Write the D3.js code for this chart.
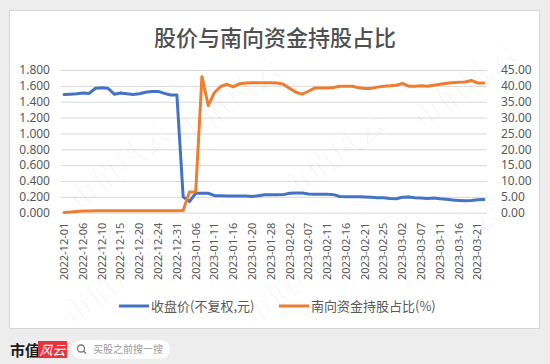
<!DOCTYPE html>
<html>
<head>
<meta charset="utf-8">
<script src="https://cdn.jsdelivr.net/npm/d3@7"></script>
<style>
  body { margin: 0; background: #ededed; }
  svg { display: block; }
</style>
</head>
<body>
<svg id="chart" width="550" height="364"></svg>
<script>
const dates = [
  "2022-12-01", "2022-12-02", "2022-12-05", "2022-12-06", "2022-12-07", "2022-12-08", "2022-12-10", "2022-12-12",
  "2022-12-13", "2022-12-15", "2022-12-16", "2022-12-19", "2022-12-20", "2022-12-21", "2022-12-22", "2022-12-24",
  "2022-12-28", "2022-12-29", "2022-12-31", "2023-01-03", "2023-01-04", "2023-01-06", "2023-01-09", "2023-01-10",
  "2023-01-11", "2023-01-12", "2023-01-13", "2023-01-16", "2023-01-17", "2023-01-18", "2023-01-20", "2023-01-21",
  "2023-01-27", "2023-01-28", "2023-01-31", "2023-02-01", "2023-02-02", "2023-02-03", "2023-02-06", "2023-02-07",
  "2023-02-08", "2023-02-10", "2023-02-11", "2023-02-14", "2023-02-15", "2023-02-16", "2023-02-17", "2023-02-20",
  "2023-02-21", "2023-02-23", "2023-02-24", "2023-02-25", "2023-02-28", "2023-03-01", "2023-03-02", "2023-03-03",
  "2023-03-06", "2023-03-07", "2023-03-09", "2023-03-10", "2023-03-11", "2023-03-14", "2023-03-15", "2023-03-16",
  "2023-03-17", "2023-03-20", "2023-03-21", "2023-03-22"
];

// 收盘价(不复权,元)
const closePrice = [
  1.49, 1.495, 1.50, 1.51, 1.505, 1.57, 1.575, 1.57,
  1.495, 1.51, 1.50, 1.49, 1.50, 1.52, 1.53, 1.53,
  1.505, 1.485, 1.485, 0.20, 0.14, 0.245, 0.245, 0.245,
  0.215, 0.215, 0.21, 0.21, 0.21, 0.21, 0.205, 0.215,
  0.225, 0.225, 0.225, 0.228, 0.245, 0.25, 0.248, 0.235,
  0.233, 0.233, 0.233, 0.228, 0.205, 0.20, 0.20, 0.20,
  0.198, 0.195, 0.19, 0.19, 0.18, 0.175, 0.195, 0.198,
  0.19, 0.185, 0.18, 0.185, 0.175, 0.17, 0.16, 0.155,
  0.15, 0.155, 0.163, 0.165
];

// 南向资金持股占比(%)
const southboundPct = [
  0.1, 0.2, 0.35, 0.5, 0.55, 0.6, 0.6, 0.6,
  0.6, 0.6, 0.6, 0.6, 0.6, 0.6, 0.6, 0.6,
  0.6, 0.6, 0.6, 0.7, 6.5, 6.6, 42.9, 33.8,
  37.9, 39.8, 40.5, 39.7, 40.7, 40.9, 41.0, 41.0,
  41.0, 41.0, 40.9, 40.5, 39.2, 38.0, 37.4, 38.3,
  39.3, 39.3, 39.3, 39.5, 39.9, 39.9, 39.9, 39.4,
  39.2, 39.2, 39.6, 39.9, 40.0, 40.2, 40.8, 39.9,
  39.9, 40.0, 39.9, 40.2, 40.5, 40.8, 41.0, 41.1,
  41.2, 41.7, 40.9, 40.9
];

const leftTicks = [0, 0.2, 0.4, 0.6, 0.8, 1.0, 1.2, 1.4, 1.6, 1.8];
const rightTicks = [0, 5, 10, 15, 20, 25, 30, 35, 40, 45];

const title = "股价与南向资金持股占比";
const seriesNames = ["收盘价(不复权,元)", "南向资金持股占比(%)"];
const colors = ["#4472c4", "#ed7d31"];

const textFont = "'Noto Sans', 'Noto Sans CJK SC', sans-serif";
const cjkFont = "'Noto Sans CJK SC', sans-serif";

const svg = d3.select("#chart");

// page frame
svg.append("rect").attr("x", 0).attr("y", 0).attr("width", 550).attr("height", 364)
  .attr("rx", 8).attr("fill", "#ededed");
svg.append("rect").attr("x", 9.5).attr("y", 10.5).attr("width", 530).attr("height", 318)
  .attr("fill", "#ffffff").attr("stroke", "#d6d6d6");

const plot = { left: 61, right: 487, top: 70, bottom: 212.7 };

const x = d3.scaleBand().domain(d3.range(dates.length))
  .range([plot.left, plot.right]);
const cx = (i) => x(i) + x.bandwidth() / 2;

const yLeft = d3.scaleLinear().domain([0, 1.8]).range([plot.bottom, plot.top]);
const yRight = d3.scaleLinear().domain([0, 45]).range([plot.bottom, plot.top]);

// gridlines
svg.append("g")
  .attr("transform", `translate(${plot.left},0)`)
  .call(d3.axisLeft(yLeft).tickValues(leftTicks).tickSize(-(plot.right - plot.left)).tickFormat(""))
  .call((g) => g.select(".domain").remove())
  .call((g) => g.selectAll("line").attr("stroke", "#d9d9d9").attr("stroke-width", 1));

// left axis labels
svg.append("g")
  .attr("transform", `translate(${plot.left - 11},0)`)
  .call(d3.axisLeft(yLeft).tickValues(leftTicks).tickSize(0).tickFormat(d3.format(".3f")))
  .call((g) => g.select(".domain").remove())
  .call((g) => g.selectAll("text").attr("fill", "#595959").attr("font-size", 12)
    .attr("font-family", textFont).attr("x", 0));

// right axis labels
svg.append("g")
  .attr("transform", `translate(${plot.right + 14},0)`)
  .call(d3.axisRight(yRight).tickValues(rightTicks).tickSize(0).tickFormat(d3.format(".2f")))
  .call((g) => g.select(".domain").remove())
  .call((g) => g.selectAll("text").attr("fill", "#595959").attr("font-size", 12)
    .attr("font-family", textFont).attr("x", 0));

// x axis labels, every third category like Excel's auto interval
const xAxis = d3.axisBottom(x)
  .tickValues(d3.range(dates.length).filter((i) => i % 3 === 0))
  .tickSize(0)
  .tickFormat((i) => dates[i]);

svg.append("g")
  .attr("transform", `translate(0,${plot.bottom})`)
  .call(xAxis)
  .call((g) => g.select(".domain").remove())
  .call((g) => g.selectAll("text")
    .attr("fill", "#595959").attr("font-size", 11).attr("font-family", textFont)
    .attr("text-anchor", "end")
    .attr("transform", "rotate(-90)")
    .attr("x", -10).attr("y", 0).attr("dy", "0.35em"));

// watermarks (under the lines)
const marks = [[235, 110], [470, 95], [125, 175], [340, 165], [455, 255], [120, 290], [300, 290]];
svg.append("g").selectAll("text").data(marks).join("text")
  .attr("transform", (d) => `translate(${d[0]},${d[1]}) rotate(-38)`)
  .attr("text-anchor", "middle")
  .attr("font-family", "'Noto Serif CJK SC', " + cjkFont)
  .attr("font-size", 30)
  .attr("fill", "#000").attr("fill-opacity", 0.035)
  .text("市值风云");

// lines
const priceLine = d3.line().x((d, i) => cx(i)).y((d) => yLeft(d));
const pctLine = d3.line().x((d, i) => cx(i)).y((d) => yRight(d));

svg.append("path").datum(closePrice)
  .attr("d", priceLine).attr("fill", "none").attr("stroke", colors[0])
  .attr("stroke-width", 3).attr("stroke-linejoin", "round").attr("stroke-linecap", "round");

svg.append("path").datum(southboundPct)
  .attr("d", pctLine).attr("fill", "none").attr("stroke", colors[1])
  .attr("stroke-width", 3).attr("stroke-linejoin", "round").attr("stroke-linecap", "round");

// title
svg.append("text").attr("x", 275).attr("y", 46).attr("text-anchor", "middle")
  .attr("fill", "#505050").attr("font-size", 22).attr("font-weight", 500).attr("font-family", cjkFont)
  .text(title);

// legend
const legendItems = [
  { name: seriesNames[0], color: colors[0], x: 119 },
  { name: seriesNames[1], color: colors[1], x: 279 }
];
const legend = svg.append("g").selectAll("g").data(legendItems).join("g")
  .attr("transform", (d) => `translate(${d.x},306)`);
legend.append("line").attr("x1", 0).attr("x2", 30).attr("y1", 0).attr("y2", 0)
  .attr("stroke", (d) => d.color).attr("stroke-width", 3);
legend.append("text").attr("x", 32).attr("y", 0).attr("dy", "0.35em")
  .attr("fill", "#595959").attr("font-size", 13).attr("font-family", cjkFont)
  .text((d) => d.name);

// footer
svg.append("text").attr("x", 10).attr("y", 356).attr("font-size", 15).attr("font-weight", "bold")
  .attr("font-family", cjkFont).attr("fill", "#1a1a1a").text("市值");
svg.append("rect").attr("x", 38).attr("y", 341).attr("width", 29).attr("height", 17)
  .attr("fill", "#e8323c");
svg.append("text").attr("x", 52.5).attr("y", 354.5).attr("text-anchor", "middle")
  .attr("font-size", 13).attr("font-style", "italic").attr("font-family", cjkFont)
  .attr("fill", "#ffffff").text("风云");
svg.append("rect").attr("x", 72).attr("y", 340).attr("width", 98).attr("height", 19).attr("rx", 9.5)
  .attr("fill", "#ffffff");
svg.append("circle").attr("cx", 81).attr("cy", 348.5).attr("r", 3.5)
  .attr("fill", "none").attr("stroke", "#777").attr("stroke-width", 1.3);
svg.append("line").attr("x1", 83.5).attr("y1", 351).attr("x2", 86).attr("y2", 353.5)
  .attr("stroke", "#777").attr("stroke-width", 1.3);
svg.append("text").attr("x", 93).attr("y", 353).attr("font-size", 10)
  .attr("font-family", cjkFont).attr("fill", "#9a9a9a").text("买股之前搜一搜");
</script>
</body>
</html>
